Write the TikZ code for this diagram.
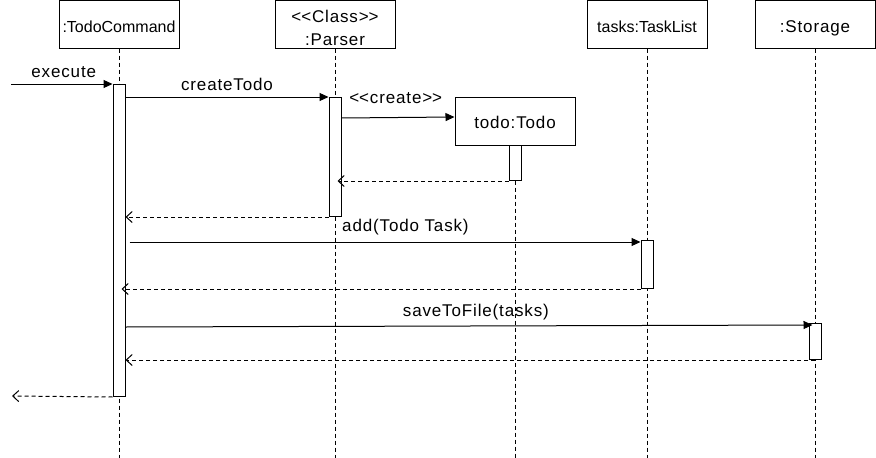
\documentclass[tikz,border=0pt]{standalone}
\usepackage{fontspec}
\setmainfont{Liberation Sans}
\usetikzlibrary{arrows.meta}

\newcommand\dlt{<\kern0pt<}
\newcommand\dgt{>\kern0pt>}
\newcommand\wide{\fontsize{17}{23}\selectfont\addfontfeature{LetterSpace=5}}

\tikzset{
  obj/.style={draw, fill=white, minimum width=120pt, minimum height=48pt, inner sep=0pt, align=center,
    text height=16pt, text depth=0pt, font=\wide},
  tight/.style={font=\fontsize{16}{19}\selectfont},
  act/.style={draw, fill=white, minimum width=12pt, inner sep=0pt},
  life/.style={dash pattern=on 4pt off 3pt},
  call/.style={-{Triangle[length=9pt,width=8pt]}},
  ret/.style={dash pattern=on 4pt off 3pt, -{Straight Barb[length=6pt,width=11pt]}},
  lbl/.style={font=\wide, inner sep=0pt}
}

\begin{document}
\begin{tikzpicture}[x=1pt, y=-1pt, line width=1pt]
\useasboundingbox (0,0) rectangle (876,458);
\node [obj, tight] (c) at (119,24) {:TodoCommand};
\node [obj, text height=42pt] (p) at (335,24) {\dlt Class\dgt\\:Parser};
\node [obj, tight] (l) at (647,24) {tasks:TaskList};
\node [obj] (s) at (815,24) {:Storage};
\node [obj, text height=14pt] (t) at (515,121) {todo:Todo};
\draw [life] (c.south) -- (119,458);
\draw [life] (p.south) -- (335,458);
\draw [life] (l.south) -- (647,458);
\draw [life] (s.south) -- (815,458);
\draw [life] (t.south) -- (515,458);
\node [act, minimum height=312pt, anchor=north] (ac) at (119,84) {};
\node [act, minimum height=119pt, anchor=north] (ap) at (335,97) {};
\node [act, minimum height=35pt, anchor=north] (at) at (515,145) {};
\node [act, minimum height=48pt, anchor=north] (al) at (647,240) {};
\node [act, minimum height=36pt, anchor=north] (as) at (815,323) {};
\coordinate (in) at (11,84);
\coordinate (out) at (12,396);
\draw [call] (in) -- (ac.north west) node [lbl, pos=0.52, above=6pt] {execute};
\draw [call] (ac.east |- ap.north) -- (ap.north west) node [lbl, midway, above=6pt] {createTodo};
\draw [call] (ap.east |- 0,118) -- ([yshift=4pt]t.west) node [lbl, pos=0.48, above=13pt] {\dlt create\dgt};
\draw [ret] (at.south west) -- ([xshift=-4pt]ap.east |- at.south);
\draw [ret] (ap.south west) -- (ac.east |- ap.south);
\draw [call] ([xshift=4pt]ac.east |- 0,242) -- (al.west |- 0,242) node [lbl, pos=0.54, above=6pt] {add(Todo Task)};
\draw [ret] (al.south west) -- ([xshift=-4pt]ac.east |- al.south);
\draw [call] (ac.east |- 0,327) -- ([xshift=4pt]as.west |- 0,325) node [lbl, pos=0.51, above=5pt] {saveToFile(tasks)};
\draw [ret] (as.south) -- (ac.east |- as.south);
\draw [ret] (ac.south west) -- (out);
\end{tikzpicture}
\end{document}
